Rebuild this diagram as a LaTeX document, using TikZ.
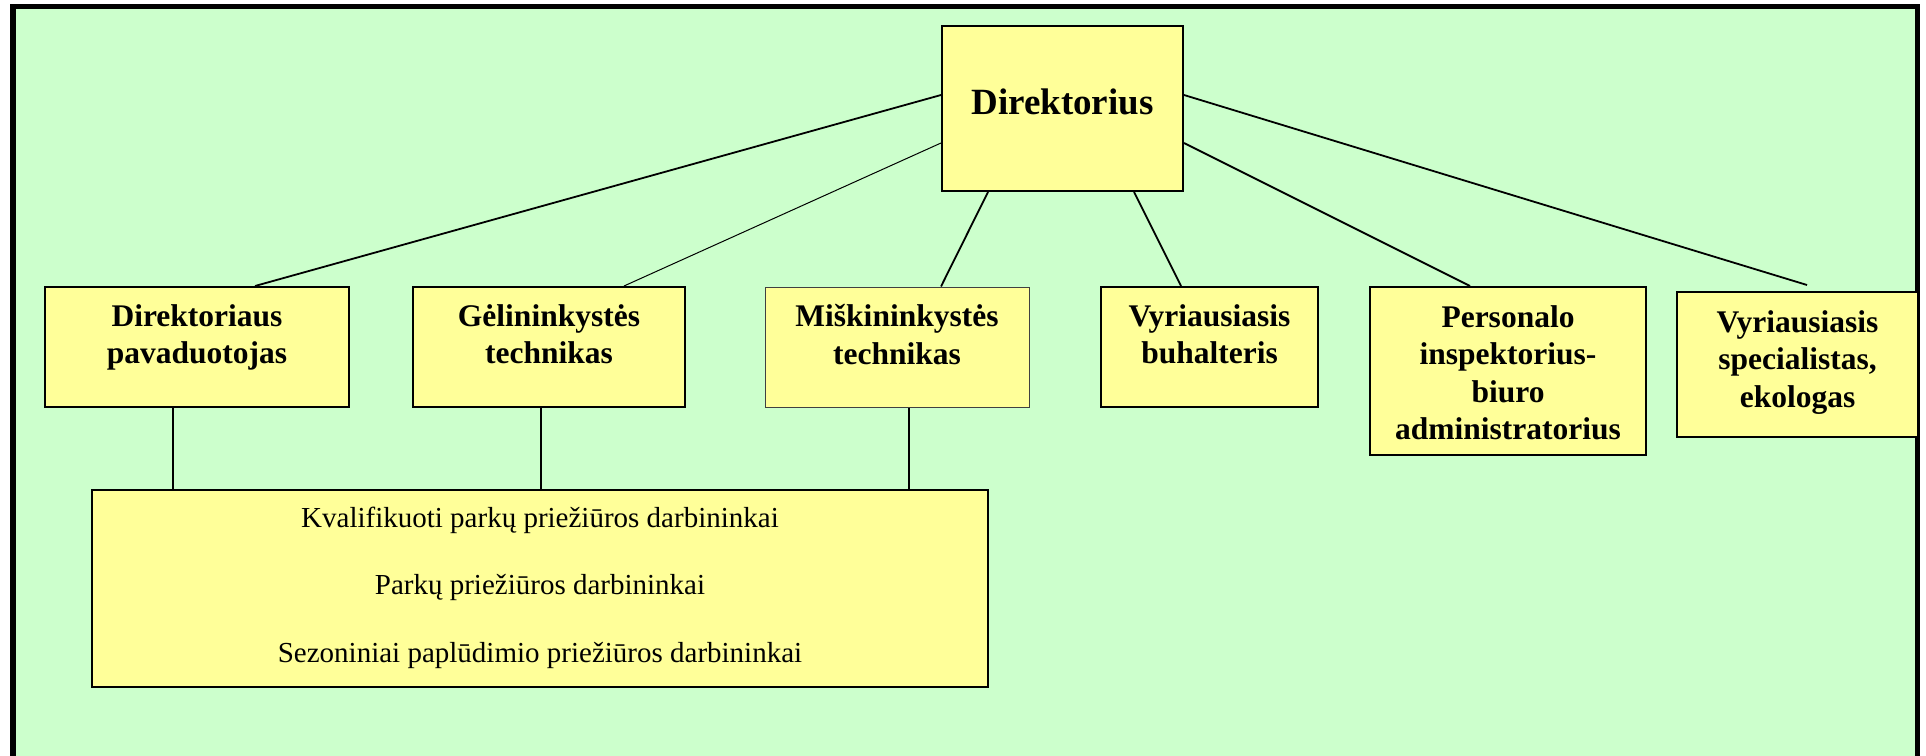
\documentclass[tikz,border=0pt]{standalone}
\usepackage{fontspec}
\setmainfont{Liberation Serif}
\definecolor{bggreen}{HTML}{CCFFCC}
\definecolor{boxyellow}{HTML}{FFFF99}
\begin{document}
\begin{tikzpicture}[x=1pt,y=-1pt,
  box/.style={draw=black, line width=2pt, fill=boxyellow, inner sep=0pt, rectangle},
  thinbox/.style={box, draw=black!75, line width=1pt},
  ttl/.style={inner sep=0pt, align=center, anchor=north, font=\bfseries\fontsize{31.5}{37.5}\selectfont},
  conn/.style={line width=1.8pt},
  thinconn/.style={line width=1pt}]
\useasboundingbox (0,0) rectangle (1926,755);
\clip (0,0) rectangle (1926,755);
\fill[white] (0,0) rectangle (1926,755);
\draw[line width=5.5pt, fill=bggreen] (13,6.5) rectangle (1917.5,830);

% boxes
\node[box, minimum width=241pt, minimum height=165pt] (dir) at (1062.5,108.5) {};
\node[box, minimum width=304pt, minimum height=120pt] (n1) at (197,347) {};
\node[box, minimum width=272pt, minimum height=120pt] (n2) at (549,347) {};
\node[thinbox, minimum width=264pt, minimum height=120pt] (n3) at (897,347) {};
\node[box, minimum width=217pt, minimum height=120pt] (n4) at (1209.5,347) {};
\node[box, minimum width=276pt, minimum height=168pt] (n5) at (1508,371) {};
\node[box, minimum width=241pt, minimum height=145pt] (n6) at (1797.5,364.5) {};
\node[box, minimum width=896pt, minimum height=197pt] (bot) at (540,588.5) {};

% connectors
\draw[conn] ([yshift=13.5pt]dir.west) -- ([xshift=58pt]n1.north);
\draw[thinconn] ([yshift=-34.5pt]dir.west) -- ([xshift=75pt]n2.north);
\draw[conn] ([xshift=-74.5pt]dir.south) -- ([xshift=44pt]n3.north);
\draw[conn] ([xshift=71.5pt]dir.south) -- ([xshift=-28.5pt]n4.north);
\draw[conn] ([yshift=-34.5pt]dir.east) -- ([xshift=-38pt]n5.north);
\draw[conn] ([yshift=13.5pt]dir.east) -- ([xshift=9.5pt,yshift=6pt]n6.north);
\draw[conn] ([xshift=-24pt]n1.south) -- ([xshift=-24pt]n1.south |- bot.north);
\draw[conn] ([xshift=-8pt]n2.south) -- ([xshift=-8pt]n2.south |- bot.north);
\draw[conn] ([xshift=12pt]n3.south) -- ([xshift=12pt]n3.south |- bot.north);

% texts
\node[ttl, font=\bfseries\fontsize{37}{44}\selectfont] (dirt) at ([yshift=-61pt]dir.north) {\rule{0pt}{28pt}Direktorius};
\node[ttl] (n1t) at ([yshift=-18pt]n1.north) {\rule{0pt}{22pt}Direktoriaus\\pavaduotojas};
\node[ttl] (n2t) at ([yshift=-18pt]n2.north) {\rule{0pt}{22pt}Gėlininkystės\\technikas};
\node[ttl] (n3t) at ([yshift=-18pt]n3.north) {\rule{0pt}{22pt}Miškininkystės\\technikas};
\node[ttl] (n4t) at ([yshift=-18pt]n4.north) {\rule{0pt}{22pt}Vyriausiasis\\buhalteris};
\node[ttl] (n5t) at ([yshift=-19pt]n5.north) {\rule{0pt}{22pt}Personalo\\inspektorius-\\biuro\\administratorius};
\node[ttl] (n6t) at ([yshift=-19pt]n6.north) {\rule{0pt}{22pt}Vyriausiasis\\specialistas,\\ekologas};
\node[inner sep=0pt, align=center, anchor=north, font=\fontsize{29}{67.5}\selectfont] (bott) at ([yshift=-16pt]bot.north)
  {\rule{0pt}{22pt}Kvalifikuoti parkų priežiūros darbininkai\\Parkų priežiūros darbininkai\\Sezoniniai paplūdimio priežiūros darbininkai};
\end{tikzpicture}
\end{document}
